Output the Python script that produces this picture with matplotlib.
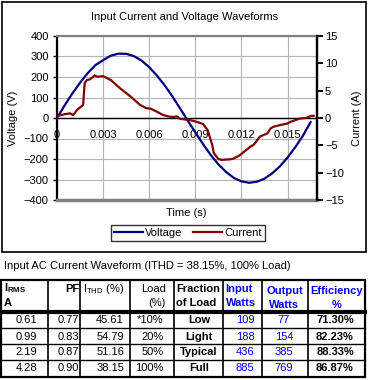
import matplotlib
matplotlib.use("Agg")
import matplotlib.pyplot as plt
from matplotlib.patches import Rectangle

plt.rcParams['font.family'] = ['Liberation Sans', 'DejaVu Sans']
plt.rcParams['mathtext.fontset'] = 'custom'
plt.rcParams['mathtext.rm'] = 'Liberation Sans'
plt.rcParams['mathtext.bf'] = 'Liberation Sans:bold'

# voltage waveform (s, V)
t_volt = [0, 0.0005, 0.001, 0.0015, 0.002, 0.0025, 0.003, 0.0035, 0.004, 0.0045,
          0.005, 0.0055, 0.006, 0.0065, 0.007, 0.0075, 0.008, 0.0085, 0.009, 0.0095,
          0.010, 0.0105, 0.011, 0.0115, 0.012, 0.0125, 0.013, 0.0135, 0.014, 0.0145,
          0.015, 0.0155, 0.016, 0.0165]
volt = [0, 62, 120, 172, 219, 258, 282, 304, 314, 313,
        302, 280, 248, 207, 160, 106, 48, -12, -70, -127,
        -180, -226, -263, -292, -309, -316, -311, -296, -270, -236,
        -193, -143, -87, -20]

# current waveform (s, A)
t_curr = [0, 0.0005, 0.00085, 0.00105, 0.0013, 0.0015, 0.0017, 0.0018, 0.00195, 0.00215,
          0.00245, 0.0026, 0.003, 0.0035, 0.0041, 0.0048, 0.0054, 0.0058, 0.0061, 0.0065,
          0.0069, 0.0073, 0.0076, 0.0078, 0.0080, 0.0087, 0.0091, 0.0095, 0.0098, 0.0101,
          0.0102, 0.0105, 0.0107, 0.0113, 0.0115, 0.0119, 0.0126, 0.0128, 0.0132, 0.0137,
          0.0139, 0.0141, 0.0145, 0.0150, 0.0152, 0.0158, 0.0162, 0.0165, 0.0167]
curr = [0.35, 0.7, 0.85, 0.55, 1.45, 1.95, 2.4, 6.4, 6.95, 7.07,
        7.8, 7.55, 7.65, 6.95, 5.45, 3.9, 2.4, 1.8, 1.7, 1.15,
        0.55, 0.25, 0.2, 0.3, -0.15, -0.4, -0.7, -1.1, -2.2, -4.9,
        -6.4, -7.5, -7.65, -7.55, -7.4, -6.8, -5.2, -4.9, -3.4, -2.8,
        -1.9, -1.6, -1.3, -1.0, -0.7, -0.1, 0.0, 0.35, 0.4]

# table
caption = "Input AC Current Waveform (ITHD = 38.15%, 100% Load)"
irms = ["0.61", "0.99", "2.19", "4.28"]
pf = ["0.77", "0.83", "0.87", "0.90"]
ithd = ["45.61", "54.79", "51.16", "38.15"]
load = ["*10%", "20%", "50%", "100%"]
fraction = ["Low", "Light", "Typical", "Full"]
input_w = ["109", "188", "436", "885"]
output_w = ["77", "154", "385", "769"]
efficiency = ["71.30%", "82.23%", "88.33%", "86.87%"]

navy = '#000080'
maroon = '#800000'
blue = '#0000FF'
fs = 8

fig = plt.figure(figsize=(3.71, 3.80), dpi=100)

# background overlay in pixel coordinates
bg = fig.add_axes([0, 0, 1, 1], zorder=-1)
bg.set_xlim(0, 371)
bg.set_ylim(380, 0)
bg.axis('off')
bg.add_patch(Rectangle((2, 2), 364, 250, fill=False, ec='black', lw=1.2))

# chart
ax = fig.add_axes([57 / 371, (380 - 200) / 380, 259.7 / 371, 164 / 380])
ax.plot(t_volt, volt, color=navy, lw=1.6, label='Voltage', zorder=3)
ax.set_xlim(0, 0.0169)
ax.set_ylim(-400, 400)
ax.set_yticks(range(-400, 401, 100))
ax.set_xticks([0, 0.003, 0.006, 0.009, 0.012, 0.015])
ax.set_xticklabels(['0', '0.003', '0.006', '0.009', '0.012', '0.015'])
ax.grid(True, color='#b4b4b4', lw=0.8)
ax.set_axisbelow(True)
ax.spines['bottom'].set_position(('data', 0))
ax.spines['bottom'].set_linewidth(1.0)
ax.spines['top'].set_color('#808080')
ax.spines['top'].set_linewidth(1.6)
ax.spines['left'].set_linewidth(1.6)
ax.spines['right'].set_linewidth(1.6)
ax.axhline(-400, color='#808080', lw=2.5, clip_on=False, zorder=4)
ax.tick_params(axis='y', labelsize=fs, length=3, width=1, pad=3)
ax.tick_params(axis='x', labelsize=fs, length=0, pad=9)
ax.set_ylabel('Voltage (V)', fontsize=fs, labelpad=4)

ax2 = ax.twinx()
ax2.plot(t_curr, curr, color=maroon, lw=1.6, label='Current', zorder=3)
ax2.set_ylim(-15, 15)
ax2.set_yticks(range(-15, 16, 5))
ax2.tick_params(axis='y', labelsize=fs, length=4, width=1.4, pad=2)
ax2.spines['right'].set_linewidth(1.6)
ax2.spines['top'].set_visible(False)
ax2.spines['bottom'].set_visible(False)
ax2.spines['left'].set_visible(False)
ax2.set_ylabel('Current (A)', fontsize=fs, rotation=90, labelpad=6)

fig.text(185 / 371, 1 - 17 / 380, 'Input Current and Voltage Waveforms',
         ha='center', va='center', fontsize=fs)
fig.text(186 / 371, 1 - 213 / 380, 'Time (s)', ha='center', va='center', fontsize=fs)

h1, l1 = ax.get_legend_handles_labels()
h2, l2 = ax2.get_legend_handles_labels()
leg = fig.legend(h1 + h2, l1 + l2, loc='center', bbox_to_anchor=(188 / 371, 1 - 233 / 380),
                 ncol=2, fontsize=fs, frameon=True, fancybox=False, edgecolor='black',
                 handlelength=2.6, handletextpad=0.2, columnspacing=1.0,
                 borderpad=0.25, borderaxespad=0)
leg.get_frame().set_linewidth(1.0)

# table
bg.text(4, 266, caption, ha='left', va='center', fontsize=fs)
col_x = [1, 47.7, 80, 130, 174.3, 223.3, 261.7, 308.3, 365]
row_y = [280, 312, 328.3, 344.3, 360, 376.7]
bg.add_patch(Rectangle((col_x[0], row_y[0]), col_x[-1] - col_x[0], row_y[-1] - row_y[0],
                       fill=False, ec='black', lw=1.6))
for x in col_x[1:-1]:
    bg.plot([x, x], [row_y[0], row_y[-1]], color='black', lw=1.2)
bg.plot([col_x[0], col_x[-1]], [row_y[1], row_y[1]], color='black', lw=3.0)
for y in row_y[2:-1]:
    bg.plot([col_x[0], col_x[-1]], [y, y], color='black', lw=1.0)

l1y, l2y = 288.5, 302.5
bg.text(3.5, l1y, r'$\mathbf{I}_{\mathbf{RMS}}$', ha='left', va='center', fontsize=fs)
bg.text(3.5, l2y, 'A', ha='left', va='center', fontsize=fs, fontweight='bold')
bg.text(79, l1y, 'PF', ha='right', va='center', fontsize=fs, fontweight='bold')
bg.text(83, l1y, r'$\mathrm{I}_{\mathrm{THD}}$ (%)', ha='left', va='center', fontsize=fs)
bg.text(166, l1y, 'Load', ha='right', va='center', fontsize=fs)
bg.text(166, l2y, '(%)', ha='right', va='center', fontsize=fs)
bg.text(176.5, l1y, 'Fraction', ha='left', va='center', fontsize=fs, fontweight='bold')
bg.text(176.5, l2y, 'of Load', ha='left', va='center', fontsize=fs, fontweight='bold')
bg.text(225.5, l1y, 'Input', ha='left', va='center', fontsize=fs, fontweight='bold', color=blue)
bg.text(225.5, l2y, 'Watts', ha='left', va='center', fontsize=fs, fontweight='bold', color=blue)
bg.text(284.5, l1y + 3, 'Output', ha='center', va='center', fontsize=fs, fontweight='bold', color=blue)
bg.text(284.5, l2y + 3, 'Watts', ha='center', va='center', fontsize=fs, fontweight='bold', color=blue)
bg.text(337, l1y + 3, 'Efficiency', ha='center', va='center', fontsize=fs, fontweight='bold', color=blue)
bg.text(337, l2y + 3, '%', ha='center', va='center', fontsize=fs, fontweight='bold', color=blue)

row_c = [320, 336.5, 352.2, 368.3]
for i, yc in enumerate(row_c):
    bg.text(37, yc, irms[i], ha='right', va='center', fontsize=fs)
    bg.text(79, yc, pf[i], ha='right', va='center', fontsize=fs)
    bg.text(124, yc, ithd[i], ha='right', va='center', fontsize=fs)
    bg.text(163.5, yc, load[i], ha='right', va='center', fontsize=fs)
    bg.text(199, yc, fraction[i], ha='center', va='center', fontsize=fs, fontweight='bold')
    bg.text(245, yc, input_w[i], ha='center', va='center', fontsize=fs, color=blue)
    bg.text(284, yc, output_w[i], ha='center', va='center', fontsize=fs, color=blue)
    bg.text(335, yc, efficiency[i], ha='center', va='center', fontsize=fs, fontweight='bold')

fig.savefig('out.png', dpi=100)
